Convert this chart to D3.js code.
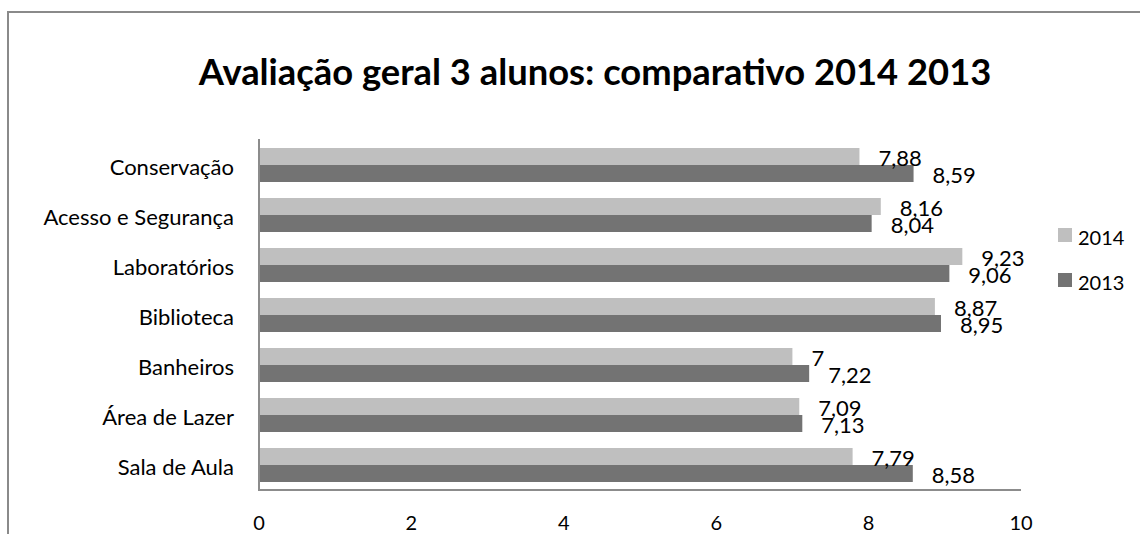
<!DOCTYPE html>
<html>
<head>
<meta charset="utf-8">
<script src="https://cdn.jsdelivr.net/npm/d3@7"></script>
<style>
  body { margin: 0; background: #fff; }
  svg { display: block; font-family: Lato, "Open Sans", sans-serif; }
</style>
</head>
<body>
<div id="chart"></div>
<script>
// data
var categories = ["Conservação", "Acesso e Segurança", "Laboratórios", "Biblioteca", "Banheiros", "Área de Lazer", "Sala de Aula"];
var series = ["2014", "2013"];
var values2014 = [7.88, 8.16, 9.23, 8.87, 7, 7.09, 7.79];
var values2013 = [8.59, 8.04, 9.06, 8.95, 7.22, 7.13, 8.58];
var xTicks = [0, 2, 4, 6, 8, 10];
var colors = ["#bfbfbf", "#737373"];

var width = 1140, height = 534;

var svg = d3.select('#chart').append('svg')
  .attr('width', width)
  .attr('height', height);

// outer frame (right and bottom edges fall outside the picture)
svg.append('rect')
  .attr('x', 8).attr('y', 12)
  .attr('width', 1200).attr('height', 600)
  .attr('fill', 'none')
  .attr('stroke', '#8a8a8a')
  .attr('stroke-width', 2);

// title
var title = svg.append('text')
  .attr('x', 595).attr('y', 85)
  .attr('text-anchor', 'middle')
  .attr('font-weight', 'bold')
  .attr('font-size', 36)
  .text('Avaliação geral 3 alunos: comparativo 2014 2013');
// fit title to the width seen in the picture
var tw = title.node().getComputedTextLength();
title.attr('font-size', 36 * 793 / tw);

var x = d3.scaleLinear().domain([0, 10]).range([259, 1021]);
var y = d3.scaleBand().domain(categories).range([140, 490])
  .paddingInner(0.32).paddingOuter(0.16);
var ySub = d3.scaleBand().domain(series).range([0, y.bandwidth()]);

var rows = categories.map(function(c, i) {
  return {cat: c, vals: [values2014[i], values2013[i]]};
});

var groups = svg.selectAll('g.row')
  .data(rows)
  .enter().append('g')
  .attr('class', 'row')
  .attr('transform', function(d) { return 'translate(0,' + y(d.cat) + ')'; });

groups.selectAll('rect')
  .data(function(d) { return d.vals.map(function(v, j) { return {s: series[j], v: v, j: j}; }); })
  .enter().append('rect')
  .attr('x', x(0))
  .attr('y', function(d) { return ySub(d.s); })
  .attr('width', function(d) { return x(d.v) - x(0); })
  .attr('height', ySub.bandwidth())
  .attr('fill', function(d) { return colors[d.j]; });

// value labels (comma decimals)
groups.selectAll('text.val')
  .data(function(d) { return d.vals.map(function(v, j) { return {s: series[j], v: v}; }); })
  .enter().append('text')
  .attr('class', 'val')
  .attr('x', function(d) { return x(d.v) + 19; })
  .attr('y', function(d) { return ySub(d.s) + ySub.bandwidth() / 2 + 9; })
  .attr('font-size', 22)
  .attr('fill', '#000')
  .text(function(d) { return String(d.v).replace('.', ','); });

// category labels
svg.selectAll('text.cat')
  .data(categories)
  .enter().append('text')
  .attr('class', 'cat')
  .attr('x', 234)
  .attr('y', function(d) { return y(d) + y.bandwidth() / 2 + 10; })
  .attr('text-anchor', 'end')
  .attr('font-size', 22)
  .text(function(d) { return d; });

// axes lines
svg.append('line')
  .attr('x1', x(0)).attr('x2', x(0))
  .attr('y1', 139).attr('y2', 491)
  .attr('stroke', '#8c8c8c').attr('stroke-width', 2);
svg.append('line')
  .attr('x1', x(0) - 1).attr('x2', x(10))
  .attr('y1', 490).attr('y2', 490)
  .attr('stroke', '#8c8c8c').attr('stroke-width', 2);

// x tick labels
svg.selectAll('text.tick')
  .data(xTicks)
  .enter().append('text')
  .attr('class', 'tick')
  .attr('x', function(d) { return x(d); })
  .attr('y', 530)
  .attr('text-anchor', 'middle')
  .attr('font-size', 20)
  .text(function(d) { return d; });

// legend
var legend = svg.selectAll('g.legend')
  .data(series)
  .enter().append('g')
  .attr('class', 'legend')
  .attr('transform', function(d, i) { return 'translate(1058,' + (228 + i * 45) + ')'; });
legend.append('rect')
  .attr('width', 14).attr('height', 14)
  .attr('fill', function(d, i) { return colors[i]; });
legend.append('text')
  .attr('x', 20).attr('y', 17)
  .attr('font-size', 20)
  .text(function(d) { return d; });
</script>
</body>
</html>
